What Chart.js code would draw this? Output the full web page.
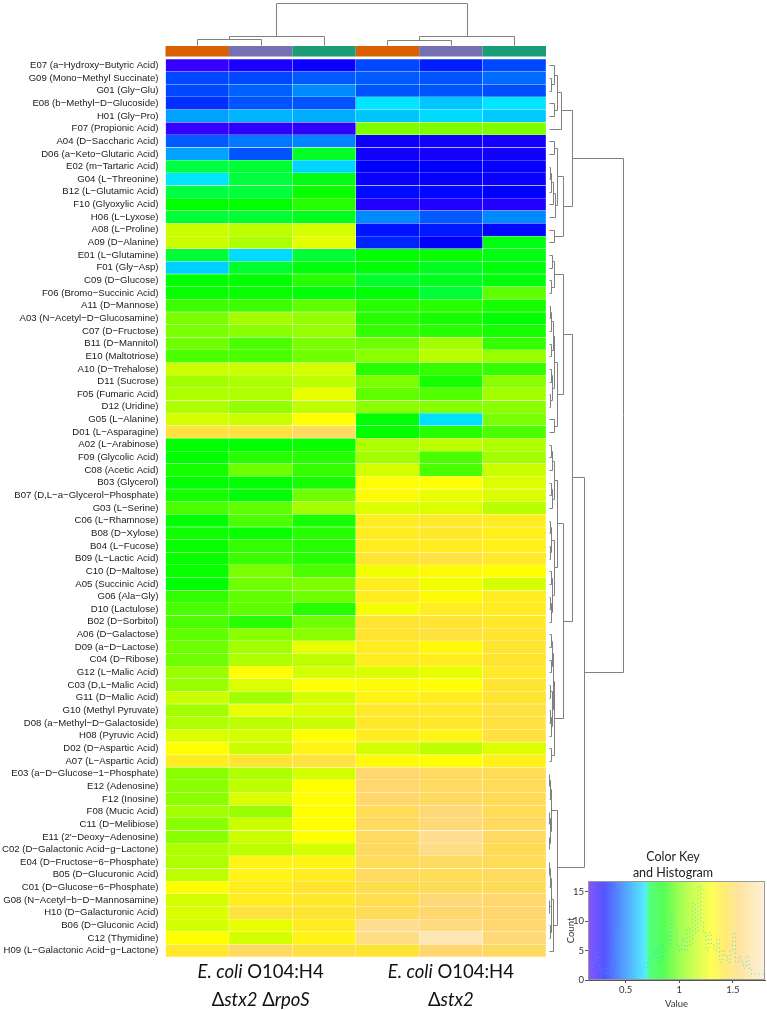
<!DOCTYPE html>
<html>
<head>
<meta charset="utf-8">
<script src="https://cdn.jsdelivr.net/npm/chart.js@4.4.1/dist/chart.umd.min.js"></script>
<style>
  html, body { margin: 0; padding: 0; background: #fff; }
  #wrap { position: relative; width: 767px; height: 1010px; overflow: hidden; }
  #heat { position: absolute; left: 0; top: 0; }
  #key { position: absolute; left: 565px; top: 840px; }
  .grp { position: absolute; width: 220px; text-align: center; font-family: Lato, "Noto Sans", sans-serif;
         font-size: 18.5px; line-height: 28px; color: #111; }
  .keytitle { position: absolute; left: 580px; top: 849px; width: 186px; text-align: center;
              font-family: Lato, "Noto Sans", sans-serif; font-size: 12.5px; line-height: 16px; color: #222; }
</style>
</head>
<body>
<div id="wrap">
  <canvas id="heat" width="767" height="1010"></canvas>
  <canvas id="key" width="202" height="170"></canvas>
  <div class="keytitle">Color Key<br>and Histogram</div>
  <div class="grp" id="g1"><i>E. coli</i> O104:H4<br>Δ<i>stx2</i> Δ<i>rpoS</i></div>
  <div class="grp" id="g2"><i>E. coli</i> O104:H4<br>Δ<i>stx2</i></div>
</div>
<script>
// substrates, top to bottom as clustered
const rowLabels = [
  "E07 (a−Hydroxy−Butyric Acid)", "G09 (Mono−Methyl Succinate)", "G01 (Gly−Glu)", "E08 (b−Methyl−D−Glucoside)",
  "H01 (Gly−Pro)", "F07 (Propionic Acid)", "A04 (D−Saccharic Acid)", "D06 (a−Keto−Glutaric Acid)",
  "E02 (m−Tartaric Acid)", "G04 (L−Threonine)", "B12 (L−Glutamic Acid)", "F10 (Glyoxylic Acid)",
  "H06 (L−Lyxose)", "A08 (L−Proline)", "A09 (D−Alanine)", "E01 (L−Glutamine)", "F01 (Gly−Asp)",
  "C09 (D−Glucose)", "F06 (Bromo−Succinic Acid)", "A11 (D−Mannose)", "A03 (N−Acetyl−D−Glucosamine)",
  "C07 (D−Fructose)", "B11 (D−Mannitol)", "E10 (Maltotriose)", "A10 (D−Trehalose)", "D11 (Sucrose)",
  "F05 (Fumaric Acid)", "D12 (Uridine)", "G05 (L−Alanine)", "D01 (L−Asparagine)", "A02 (L−Arabinose)",
  "F09 (Glycolic Acid)", "C08 (Acetic Acid)", "B03 (Glycerol)", "B07 (D,L−a−Glycerol−Phosphate)",
  "G03 (L−Serine)", "C06 (L−Rhamnose)", "B08 (D−Xylose)", "B04 (L−Fucose)", "B09 (L−Lactic Acid)",
  "C10 (D−Maltose)", "A05 (Succinic Acid)", "G06 (Ala−Gly)", "D10 (Lactulose)", "B02 (D−Sorbitol)",
  "A06 (D−Galactose)", "D09 (a−D−Lactose)", "C04 (D−Ribose)", "G12 (L−Malic Acid)", "C03 (D,L−Malic Acid)",
  "G11 (D−Malic Acid)", "G10 (Methyl Pyruvate)", "D08 (a−Methyl−D−Galactoside)", "H08 (Pyruvic Acid)",
  "D02 (D−Aspartic Acid)", "A07 (L−Aspartic Acid)", "E03 (a−D−Glucose−1−Phosphate)", "E12 (Adenosine)",
  "F12 (Inosine)", "F08 (Mucic Acid)", "C11 (D−Melibiose)", "E11 (2'−Deoxy−Adenosine)",
  "C02 (D−Galactonic Acid−g−Lactone)", "E04 (D−Fructose−6−Phosphate)", "B05 (D−Glucuronic Acid)",
  "C01 (D−Glucose−6−Phosphate)", "G08 (N−Acetyl−b−D−Mannosamine)", "H10 (D−Galacturonic Acid)",
  "B06 (D−Gluconic Acid)", "C12 (Thymidine)", "H09 (L−Galactonic Acid−g−Lactone)"
];

// replicate colour strip above the columns
const replicateColors = ["#D95F02", "#7570B3", "#1B9E77"];

// values per column (Δstx2 ΔrpoS reps 1-3, then Δstx2 reps 1-3)
const rpoS1 = [0.20,0.42,0.42,0.38,0.57,0.20,0.45,0.57,0.73,0.69, 0.73,0.85,0.75,1.18,1.18,0.75,0.65,0.85,0.86,0.93,
  1.02,1.02,1.00,0.95,1.18,1.10,1.12,1.12,1.20,1.45, 0.85,0.85,0.88,0.85,0.88,0.95,0.85,0.87,0.86,0.86,
  0.86,0.84,0.92,0.95,0.95,0.98,1.00,1.00,1.08,1.08, 1.18,1.10,1.12,1.22,1.30,1.38,1.05,1.05,1.05,1.10,
  1.05,1.05,1.12,1.12,1.15,1.30,1.20,1.22,1.20,1.30, 1.40];
const rpoS2 = [0.25,0.42,0.46,0.44,0.60,0.21,0.50,0.44,0.76,0.74, 0.74,0.85,0.76,1.15,1.12,0.67,0.77,0.85,0.86,0.93,
  1.10,1.05,0.95,0.95,1.18,1.12,1.12,1.07,1.18,1.45, 0.85,0.90,1.00,0.85,0.84,0.98,0.95,0.86,0.92,0.93,
  1.02,1.00,0.98,0.98,0.90,1.05,1.10,1.12,1.30,1.22, 1.10,1.25,1.15,1.20,1.18,1.42,1.12,1.15,1.22,1.08,
  1.18,1.18,1.15,1.35,1.35,1.38,1.38,1.45,1.25,1.20, 1.52];
const rpoS3 = [0.28,0.45,0.53,0.44,0.59,0.21,0.52,0.78,0.66,0.82, 0.86,0.90,0.80,1.20,1.24,0.75,0.83,0.90,0.83,0.98,
  1.07,1.07,1.02,1.00,1.20,1.15,1.25,1.15,1.30,1.52, 0.86,0.90,0.92,0.88,1.00,1.10,0.88,0.90,0.90,0.90,
  0.95,1.03,1.00,0.90,1.00,1.05,1.25,1.15,1.20,1.30, 1.20,1.22,1.18,1.30,1.35,1.45,1.20,1.30,1.30,1.30,
  1.30,1.30,1.20,1.35,1.38,1.42,1.40,1.42,1.38,1.35, 1.45];
const stx1 = [0.42,0.45,0.44,0.69,0.63,1.03,0.28,0.27,0.30,0.28, 0.32,0.24,0.53,0.33,0.36,0.85,0.84,0.77,0.84,0.90,
  0.90,0.92,1.00,1.05,0.90,1.02,0.98,1.05,0.84,0.85, 1.12,1.10,1.20,1.30,1.32,1.22,1.38,1.38,1.38,1.42,
  1.27,1.38,1.38,1.28,1.42,1.42,1.38,1.38,1.22,1.32, 1.35,1.40,1.40,1.38,1.20,1.32,1.55,1.55,1.55,1.50,
  1.52,1.52,1.52,1.50,1.52,1.48,1.48,1.50,1.65,1.62, 1.42];
const stx2 = [0.35,0.44,0.44,0.63,0.67,1.03,0.27,0.26,0.30,0.29, 0.31,0.24,0.45,0.34,0.30,0.86,0.79,0.80,0.75,0.90,
  0.88,0.90,1.10,1.14,0.92,0.88,0.96,1.04,0.68,0.90, 1.15,0.95,0.95,1.30,1.25,1.22,1.40,1.40,1.38,1.45,
  1.32,1.27,1.32,1.38,1.42,1.45,1.32,1.38,1.25,1.30, 1.38,1.40,1.40,1.35,1.15,1.30,1.52,1.52,1.52,1.58,
  1.58,1.65,1.62,1.52,1.50,1.50,1.58,1.55,1.60,1.75, 1.55];
const stx3 = [0.42,0.48,0.43,0.69,0.64,1.03,0.26,0.27,0.29,0.28, 0.30,0.24,0.53,0.31,0.82,0.82,0.83,0.83,0.98,0.88,
  0.85,0.88,0.92,1.08,0.92,1.05,1.10,1.05,1.02,0.95, 1.12,1.10,1.18,1.22,1.22,1.14,1.38,1.36,1.36,1.40,
  1.30,1.20,1.38,1.38,1.40,1.42,1.42,1.42,1.40,1.42, 1.42,1.45,1.45,1.45,1.22,1.36,1.50,1.50,1.50,1.50,
  1.52,1.52,1.50,1.50,1.52,1.50,1.55,1.55,1.55,1.58, 1.52];

// dendrograms: [left, right, height], leaves are row / column indexes
const rowTree = [
  [ // upper block
    [[[0, [1, 2, 0.03], 0.08], [3, 4, 0.07], 0.11], 5, 0.17],
    [[[6, 7, 0.07], [[[[8, 9, 0.02], 10, 0.04], 11, 0.06], 12, 0.09], 0.11], [13, 14, 0.07], 0.2],
    0.32
  ],
  [ // lower block
    [
      [[[15, 16, 0.05], [17, 18, 0.04], 0.07],
       [[[[[19, 20, 0.02], 21, 0.04], [22, 23, 0.03], 0.06], [[24, 25, 0.03], [26, 27, 0.02], 0.05], 0.08],
        [28, 29, 0.07], 0.12], 0.2],
      [[[[[30, 31, 0.03], 32, 0.05], [[33, 34, 0.03], 35, 0.05], 0.07],
        [[[36, 37, 0.02], [38, 39, 0.02], 0.04], [[40, 41, 0.03], [[42, 43, 0.02], 44, 0.03], 0.05], 0.07], 0.11],
       [[[[45, 46, 0.03], [47, 48, 0.03], 0.05], [[49, 50, 0.02], [[51, 52, 0.02], 53, 0.03], 0.05], 0.06],
        [54, 55, 0.04], 0.07], 0.2],
      0.324
    ],
    [[[[56, 57, 0.01], 58, 0.02], [[59, 60, 0.01], [61, 62, 0.01], 0.02], 0.03],
     [[[[63, 64, 0.01], 65, 0.02], [[66, 67, 0.01], [68, 69, 0.02], 0.03], 0.04], 70, 0.06], 0.11],
    0.486
  ],
  1.0
];
const colTree = [[[0, 1, 0.13], 2, 0.21], [[3, 4, 0.115], 5, 0.21], 1.0];

// histogram in the colour key (bin width 0.025 from 0.15)
const histStart = 0.15;
const histStep = 0.025;
const histCounts = [1,3, 2,3, 5,2, 1,2, 1,2, 4,8, 4,1, 1,0, 1,1, 0,1, 1,2, 3,2, 5,4, 5,3, 6,4, 8,6, 11,9,
  6,5, 7,5, 9,6, 13,8, 16,10, 8,5, 8,6, 5,7, 3,5, 4,3, 5,8, 3,4, 3,2, 4,2, 1,1, 1,1];

// colour ramp
const rampStops = [
  [0.15, [80, 0, 255]], [0.30, [0, 0, 255]], [0.45, [0, 90, 255]], [0.60, [0, 180, 255]],
  [0.70, [0, 235, 255]], [0.705, [0, 255, 80]], [0.85, [0, 255, 0]], [1.00, [110, 255, 0]],
  [1.15, [190, 255, 0]], [1.30, [255, 255, 0]], [1.42, [255, 228, 50]], [1.55, [255, 215, 110]],
  [1.80, [253, 235, 200]]
];

function valueColor(v) {
  if (v <= rampStops[0][0]) return "rgb(" + rampStops[0][1].join(",") + ")";
  for (let i = 1; i < rampStops.length; i++) {
    const [v1, c1] = rampStops[i];
    const [v0, c0] = rampStops[i - 1];
    if (v <= v1) {
      const t = (v - v0) / (v1 - v0);
      const c = c0.map((x, k) => Math.round(x + (c1[k] - x) * t));
      return "rgb(" + c.join(",") + ")";
    }
  }
  return "rgb(" + rampStops[rampStops.length - 1][1].join(",") + ")";
}

function drawTree(ctx, node, leafPos, hPos, vertical) {
  if (typeof node === "number") return [leafPos(node), 0];
  const a = drawTree(ctx, node[0], leafPos, hPos, vertical);
  const b = drawTree(ctx, node[1], leafPos, hPos, vertical);
  const h = node[2];
  const seg = (p, h0, h1) => {
    if (vertical) { ctx.moveTo(Math.round(p) + 0.5, hPos(h0)); ctx.lineTo(Math.round(p) + 0.5, hPos(h1)); }
    else { ctx.moveTo(hPos(h0), Math.round(p) + 0.5); ctx.lineTo(hPos(h1), Math.round(p) + 0.5); }
  };
  seg(a[0], a[1], h);
  seg(b[0], b[1], h);
  if (vertical) { ctx.moveTo(Math.round(a[0]) + 0.5, hPos(h)); ctx.lineTo(Math.round(b[0]) + 0.5, hPos(h)); }
  else { ctx.moveTo(hPos(h), Math.round(a[0]) + 0.5); ctx.lineTo(hPos(h), Math.round(b[0]) + 0.5); }
  return [(a[0] + b[0]) / 2, h];
}

const heatmapExtras = {
  id: "heatmapExtras",
  afterDraw(chart) {
    const { ctx, chartArea } = chart;
    const xs = chart.scales.x, ys = chart.scales.y;
    ctx.save();
    // replicate colour strip
    for (let c = 0; c < 6; c++) {
      const x0 = xs.getPixelForValue(c), x1 = xs.getPixelForValue(c + 1);
      ctx.fillStyle = replicateColors[c % 3];
      ctx.fillRect(x0, chartArea.top - 13, x1 - x0, 10.5);
    }
    ctx.strokeStyle = "#808080";
    ctx.lineWidth = 1;
    // row dendrogram
    const rx0 = chartArea.right + 2.5, rx1 = chartArea.right + 76.5;
    ctx.beginPath();
    drawTree(ctx, rowTree, (i) => ys.getPixelForValue(i), (h) => Math.round(rx0 + h * (rx1 - rx0)) + 0.5, false);
    ctx.stroke();
    // column dendrogram
    const cy0 = chartArea.top - 14.5, cy1 = 2.5;
    ctx.beginPath();
    drawTree(ctx, colTree, (i) => xs.getPixelForValue(i + 0.5), (h) => Math.round(cy0 - h * (cy0 - cy1)) + 0.5, true);
    ctx.stroke();
    ctx.restore();
  }
};

const columns = [rpoS1, rpoS2, rpoS3, stx1, stx2, stx3];
const heatDatasets = columns.map((vals, c) => ({
  data: vals.map(() => [c, c + 1]),
  backgroundColor: vals.map(valueColor),
  borderColor: "rgba(255,255,255,0.1)",
  borderWidth: 0.5,
  borderSkipped: false,
  grouped: false,
  barPercentage: 1,
  categoryPercentage: 1
}));

const heat = new Chart(document.getElementById("heat"), {
  type: "bar",
  data: { labels: rowLabels, datasets: heatDatasets },
  plugins: [heatmapExtras],
  options: {
    indexAxis: "y",
    responsive: false,
    animation: false,
    layout: { padding: { top: 59, right: 221, bottom: 53, left: 0 } },
    plugins: { legend: { display: false }, tooltip: { enabled: false } },
    scales: {
      x: { type: "linear", min: 0, max: 6, display: false },
      y: {
        type: "category",
        grid: { display: false, drawTicks: false },
        border: { display: false },
        ticks: {
          autoSkip: false,
          padding: 7,
          color: "#1a1a1a",
          font: { family: "'Liberation Sans', Arial, sans-serif", size: 9.6 }
        },
        afterFit: (s) => { s.width = 165.5; }
      }
    }
  }
});

// group labels under the two strains
const hx = heat.scales.x;
const g1 = document.getElementById("g1"), g2 = document.getElementById("g2");
g1.style.left = (hx.getPixelForValue(1.5) - 110) + "px";
g2.style.left = (hx.getPixelForValue(4.5) - 110) + "px";
g1.style.top = g2.style.top = (heat.chartArea.bottom + 0) + "px";

// colour key with histogram
const keyBackground = {
  id: "keyBackground",
  beforeDatasetsDraw(chart) {
    const { ctx, chartArea } = chart;
    const xs = chart.scales.x;
    const w = chartArea.right - chartArea.left;
    const grad = ctx.createLinearGradient(chartArea.left, 0, chartArea.right, 0);
    rampStops.forEach(([v, c]) => {
      const t = (xs.getPixelForValue(v) - chartArea.left) / w;
      if (t >= 0 && t <= 1) grad.addColorStop(t, "rgb(" + c.join(",") + ")");
    });
    ctx.save();
    ctx.fillStyle = grad;
    ctx.fillRect(chartArea.left, chartArea.top, w, chartArea.bottom - chartArea.top);
    ctx.fillStyle = "rgba(255,255,255,0.33)";
    ctx.fillRect(chartArea.left, chartArea.top, w, chartArea.bottom - chartArea.top);
    ctx.restore();
  },
  afterDraw(chart) {
    const { ctx, chartArea } = chart;
    ctx.save();
    ctx.strokeStyle = "#9a9a9a";
    ctx.lineWidth = 1;
    ctx.strokeRect(chartArea.left + 0.5, chartArea.top + 0.5, chartArea.right - chartArea.left - 1, chartArea.bottom - chartArea.top - 1);
    ctx.restore();
  }
};

const histPoints = histCounts.map((n, i) => ({ x: histStart + i * histStep, y: n }));
histPoints.push({ x: histStart + histCounts.length * histStep, y: histCounts[histCounts.length - 1] });

const keyFont = { family: "Lato, 'Noto Sans', sans-serif", size: 9.5 };
new Chart(document.getElementById("key"), {
  type: "line",
  data: {
    datasets: [{
      data: histPoints,
      stepped: "after",
      borderColor: "rgba(0,215,255,0.7)",
      borderWidth: 1,
      borderDash: [1, 3],
      pointRadius: 0,
      fill: false
    }]
  },
  plugins: [keyBackground],
  options: {
    responsive: false,
    animation: false,
    layout: { padding: { top: 41, right: 2, left: 0, bottom: 0 } },
    plugins: { legend: { display: false }, tooltip: { enabled: false } },
    scales: {
      x: {
        type: "linear", min: 0.15, max: 1.8,
        grid: { drawOnChartArea: false, tickLength: 3, color: "#555" },
        border: { color: "#555" },
        ticks: { stepSize: 0.5, includeBounds: false, padding: 1, color: "#333", font: keyFont, maxRotation: 0,
                 callback: (v) => String(v) },
        title: { display: true, text: "Value", color: "#333", font: keyFont, padding: 0 },
        afterFit: (s) => { s.height = 30; }
      },
      y: {
        min: 0, max: 16.8,
        grid: { drawOnChartArea: false, tickLength: 3, color: "#555" },
        border: { color: "#555" },
        ticks: { stepSize: 5, includeBounds: false, padding: 1, color: "#333", font: keyFont },
        title: { display: true, text: "Count", color: "#333", font: keyFont, padding: 0 },
        afterFit: (s) => { s.width = 23; }
      }
    }
  }
});
</script>
</body>
</html>
